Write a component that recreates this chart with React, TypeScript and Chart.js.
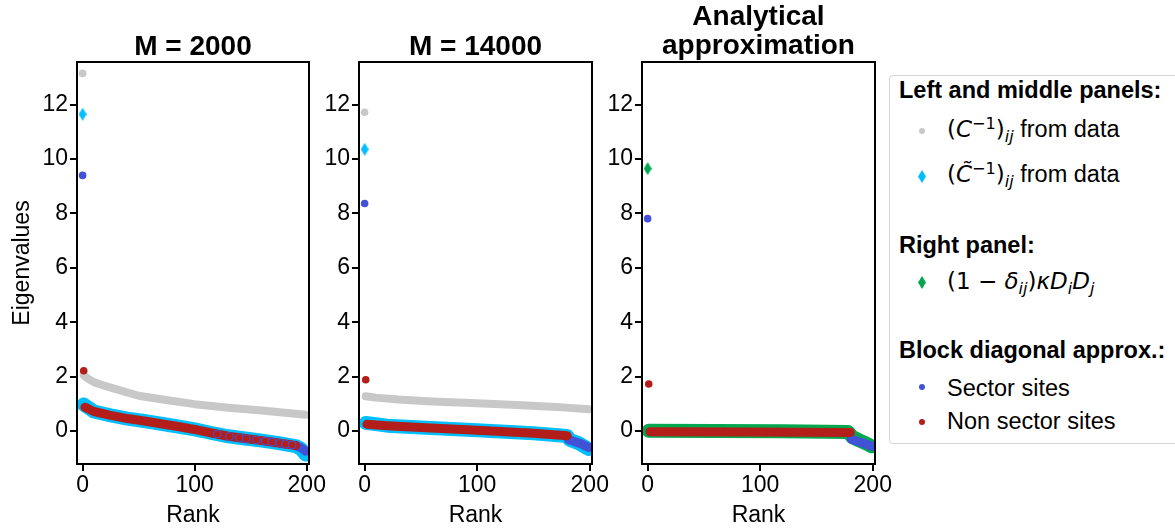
import React, { useEffect, useRef } from "react";
import { Chart, registerables } from "chart.js";

Chart.register(...registerables);

const SANS = '"Liberation Sans", Arial, Helvetica, sans-serif';
const DEJAVU = '"DejaVu Sans", sans-serif';

// axes
const X_TICKS = [0, 100, 200];
const Y_TICKS = [0, 2, 4, 6, 8, 10, 12];
const X_MIN = -5;
const X_MAX = 202;
const Y_MIN = -1.21;
const Y_MAX = 13.57;

// colours
const GREY = "#c8c8c8";
const CYAN = "#00bfff";
const BLUE = "#4152d6";
const RED = "#b41e1a";
const GREEN = "#03a84e";

// largest eigenvalues (rank 0; red one at rank 1), per panel
const TOP_GREY = [13.15, 11.72];
const TOP_CYAN = [11.65, 10.36];
const TOP_GREEN = [9.65];
const TOP_BLUE = [9.4, 8.37, 7.81];
const TOP_RED = [2.22, 1.89, 1.73];

// Panel 1: M = 2000
const P1_GREY_R = [1, 5, 10, 20, 35, 50, 70, 100, 130, 160, 199];
const P1_GREY_V = [2.05, 1.92, 1.8, 1.66, 1.48, 1.3, 1.17, 0.99, 0.86, 0.76, 0.6];
const P1_CYAN_R = [1, 10, 25, 40, 55, 70, 85, 100, 115, 130, 145, 160, 175, 190, 195, 199];
const P1_CYAN_V = [0.98, 0.72, 0.58, 0.46, 0.37, 0.27, 0.17, 0.06, -0.07, -0.19, -0.27, -0.35, -0.44, -0.55, -0.66, -0.86];
const P1_RED_R = [2, 10, 25, 40, 55, 70, 85, 100, 115, 130, 145, 160, 175, 190];
const P1_RED_V = [0.88, 0.72, 0.58, 0.46, 0.37, 0.27, 0.17, 0.06, -0.07, -0.19, -0.27, -0.35, -0.44, -0.53];
const P1_BLUE_R = [190, 194, 197, 199];
const P1_BLUE_V = [-0.53, -0.6, -0.67, -0.74];
const P1_BLUE_MIX_R = [120, 131, 140, 146, 155, 163, 169, 176, 181, 187];
const P1_BLUE_MIX_V = [-0.11, -0.2, -0.24, -0.28, -0.32, -0.37, -0.4, -0.45, -0.48, -0.51];

// Panel 2: M = 14000
const P2_GREY_R = [1, 10, 30, 60, 100, 140, 170, 199];
const P2_GREY_V = [1.28, 1.23, 1.16, 1.09, 1.02, 0.95, 0.89, 0.8];
const P2_CYAN_R = [1, 20, 50, 100, 150, 180, 182, 190, 199];
const P2_CYAN_V = [0.3, 0.2, 0.13, 0.03, -0.08, -0.18, -0.32, -0.44, -0.66];
const P2_RED_R = [2, 20, 50, 100, 150, 180];
const P2_RED_V = [0.25, 0.2, 0.13, 0.03, -0.08, -0.17];
const P2_BLUE_R = [181, 186, 192, 199];
const P2_BLUE_V = [-0.31, -0.38, -0.46, -0.6];

// Panel 3: analytical approximation
const P3_GREEN_R = [1, 60, 120, 178, 182, 188, 194, 199];
const P3_GREEN_V = [0.01, 0.0, -0.01, -0.03, -0.22, -0.34, -0.45, -0.56];
const P3_RED_R = [2, 90, 180];
const P3_RED_V = [-0.02, -0.03, -0.05];
const P3_BLUE_R = [181, 186, 192, 199];
const P3_BLUE_V = [-0.3, -0.37, -0.45, -0.56];

const pts = (r: number[], v: number[]) => r.map((x, i) => ({ x, y: v[i] }));

function diamondImg(color: string, w: number, h: number) {
  const c = document.createElement("canvas");
  c.width = w;
  c.height = h;
  const g = c.getContext("2d")!;
  g.fillStyle = color;
  g.beginPath();
  g.moveTo(w / 2, 0);
  g.lineTo(w, h / 2);
  g.lineTo(w / 2, h);
  g.lineTo(0, h / 2);
  g.closePath();
  g.fill();
  return c;
}

const band = (r: number[], v: number[], color: string, width: number, order: number) => ({
  data: pts(r, v),
  showLine: true,
  borderColor: color,
  borderWidth: width,
  borderCapStyle: "round",
  borderJoinStyle: "round",
  pointRadius: 0,
  pointHoverRadius: 0,
  clip: 0,
  order,
});

const dots = (data: { x: number; y: number }[], color: string, radius: number, order: number, border?: string) => ({
  data,
  showLine: false,
  pointStyle: "circle",
  pointRadius: radius,
  backgroundColor: color,
  borderColor: border || color,
  borderWidth: border ? 1 : 0,
  order,
});

const diamonds = (data: { x: number; y: number }[], img: HTMLCanvasElement, order: number) => ({
  data,
  showLine: false,
  pointStyle: img,
  pointRadius: 6,
  order,
});

const framePlugin = {
  id: "frame",
  afterDraw(chart: any) {
    const { ctx, chartArea } = chart;
    ctx.save();
    ctx.strokeStyle = "#000";
    ctx.lineWidth = 2;
    ctx.strokeRect(chartArea.left, chartArea.top, chartArea.right - chartArea.left, chartArea.bottom - chartArea.top);
    ctx.restore();
  },
};

function makeChart(canvas: HTMLCanvasElement, datasets: any[], yWidth: number, padRight: number, yTitle: boolean) {
  const tickFont = { family: SANS, size: 23 };
  const axisCommon = {
    grid: { display: true, drawOnChartArea: false, drawTicks: true, tickLength: 7, color: "#000", lineWidth: 2 },
    border: { display: true, color: "#000", width: 2 },
  };
  return new Chart(canvas, {
    type: "scatter",
    data: { datasets },
    plugins: [framePlugin],
    options: {
      animation: false,
      responsive: false,
      devicePixelRatio: 1,
      events: [],
      layout: { padding: { top: 62, right: padRight, left: 0, bottom: 0 } },
      plugins: { legend: { display: false }, tooltip: { enabled: false }, title: { display: false } },
      scales: {
        x: {
          type: "linear",
          min: X_MIN,
          max: X_MAX,
          ...axisCommon,
          afterBuildTicks: (s: any) => {
            s.ticks = X_TICKS.map((v) => ({ value: v }));
          },
          afterFit: (s: any) => {
            s.height = 65;
            s.paddingLeft = 0;
            s.paddingRight = 0;
          },
          ticks: { color: "#000", font: tickFont, padding: 1, maxRotation: 0, autoSkip: false },
          title: { display: true, text: "Rank", color: "#000", font: tickFont, padding: { top: 0, bottom: 0 } },
        },
        y: {
          type: "linear",
          min: Y_MIN,
          max: Y_MAX,
          ...axisCommon,
          afterBuildTicks: (s: any) => {
            s.ticks = Y_TICKS.map((v) => ({ value: v }));
          },
          afterFit: (s: any) => {
            s.width = yWidth;
            s.paddingTop = 0;
            s.paddingBottom = 0;
          },
          ticks: { color: "#000", font: tickFont, padding: 2, autoSkip: false },
          title: { display: yTitle, text: "Eigenvalues", color: "#000", font: tickFont, padding: { top: 9, bottom: 0 } },
        },
      },
    } as any,
  });
}

const CW = [330, 300, 300];
const CL = [0, 312, 595];

export default function App() {
  const r1 = useRef<HTMLCanvasElement>(null);
  const r2 = useRef<HTMLCanvasElement>(null);
  const r3 = useRef<HTMLCanvasElement>(null);

  useEffect(() => {
    const cyanD = diamondImg(CYAN, 8, 13);
    const greenD = diamondImg(GREEN, 8, 13);

    const ds1 = [
      diamonds([{ x: 0, y: TOP_CYAN[0] }], cyanD, 0),
      dots([{ x: 0, y: TOP_GREY[0] }], GREY, 3.8, 0),
      dots([{ x: 0, y: TOP_BLUE[0] }], BLUE, 3.8, 0),
      dots([{ x: 1, y: TOP_RED[0] }], RED, 3.8, 0),
      dots(pts(P1_BLUE_MIX_R, P1_BLUE_MIX_V), RED, 4, 1, BLUE),
      band(P1_RED_R, P1_RED_V, RED, 9, 2),
      band(P1_BLUE_R, P1_BLUE_V, BLUE, 9, 3),
      band(P1_CYAN_R, P1_CYAN_V, CYAN, 14, 4),
      band(P1_GREY_R, P1_GREY_V, GREY, 8, 5),
    ];
    const ds2 = [
      diamonds([{ x: 0, y: TOP_CYAN[1] }], cyanD, 0),
      dots([{ x: 0, y: TOP_GREY[1] }], GREY, 3.8, 0),
      dots([{ x: 0, y: TOP_BLUE[1] }], BLUE, 3.8, 0),
      dots([{ x: 1, y: TOP_RED[1] }], RED, 3.8, 0),
      band(P2_RED_R, P2_RED_V, RED, 9, 2),
      band(P2_BLUE_R, P2_BLUE_V, BLUE, 9, 3),
      band(P2_CYAN_R, P2_CYAN_V, CYAN, 14, 4),
      band(P2_GREY_R, P2_GREY_V, GREY, 8, 5),
    ];
    const ds3 = [
      diamonds([{ x: 0, y: TOP_GREEN[0] }], greenD, 0),
      dots([{ x: 0, y: TOP_BLUE[2] }], BLUE, 3.8, 0),
      dots([{ x: 1, y: TOP_RED[2] }], RED, 3.8, 0),
      band(P3_RED_R, P3_RED_V, RED, 9, 2),
      band(P3_BLUE_R, P3_BLUE_V, BLUE, 9, 3),
      band(P3_GREEN_R, P3_GREEN_V, GREEN, 14, 4),
    ];
    const c1 = makeChart(r1.current!, ds1, 77, 21, true);
    const c2 = makeChart(r2.current!, ds2, 47, 20, false);
    const c3 = makeChart(r3.current!, ds3, 47, 20, false);
    return () => {
      c1.destroy();
      c2.destroy();
      c3.destroy();
    };
  }, []);

  const titleStyle = (left: number, width: number, top: number): React.CSSProperties => ({
    position: "absolute",
    left,
    width,
    top,
    textAlign: "center",
    fontFamily: SANS,
    fontWeight: "bold",
    fontSize: 28,
    lineHeight: "28px",
    whiteSpace: "nowrap",
    color: "#000",
  });
  const head = (baseline: number): React.CSSProperties => ({
    position: "absolute",
    left: 899,
    top: baseline - 19.9,
    fontFamily: SANS,
    fontWeight: "bold",
    fontSize: 23.5,
    lineHeight: "23.5px",
    whiteSpace: "nowrap",
    color: "#000",
  });
  const item = (baseline: number): React.CSSProperties => ({
    position: "absolute",
    left: 947,
    top: baseline - 19.9,
    fontFamily: SANS,
    fontSize: 23.5,
    lineHeight: "23.5px",
    whiteSpace: "nowrap",
    color: "#000",
  });
  const math: React.CSSProperties = { fontFamily: DEJAVU, fontSize: 23 };
  const sup: React.CSSProperties = { fontSize: "0.7em", position: "relative", top: "-0.55em" };
  const sub: React.CSSProperties = { fontSize: "0.7em", position: "relative", top: "0.3em" };
  const marker = (cx: number, cy: number, kind: "dot" | "diamond", color: string) =>
    kind === "dot" ? (
      <div style={{ position: "absolute", left: cx - 3, top: cy - 3, width: 6, height: 6, borderRadius: "50%", background: color }} />
    ) : (
      <svg style={{ position: "absolute", left: cx - 4, top: cy - 6.5 }} width={8} height={13}>
        <polygon points="4,0 8,6.5 4,13 0,6.5" fill={color} />
      </svg>
    );

  return (
    <div style={{ position: "absolute", left: 0, top: 0, width: 1175, height: 529, overflow: "hidden", background: "#fff", fontFamily: SANS }}>
      {[r1, r2, r3].map((r, i) => (
        <canvas
          key={i}
          ref={r}
          width={CW[i]}
          height={529}
          style={{ position: "absolute", left: CL[i], top: 0, width: CW[i], height: 529 }}
        />
      ))}
      <div style={titleStyle(77, 232, 32.3)}>M = 2000</div>
      <div style={titleStyle(359, 233, 32.3)}>M = 14000</div>
      <div style={titleStyle(642, 233, 2.3)}>Analytical</div>
      <div style={titleStyle(642, 233, 31.3)}>approximation</div>

      <div
        style={{
          position: "absolute",
          left: 889,
          top: 75,
          width: 300,
          height: 367,
          border: "1px solid #d4d4d4",
          borderRadius: 4,
          background: "#fff",
        }}
      />
      <div style={head(99.3)}>Left and middle panels:</div>
      {marker(921.7, 130.7, "dot", GREY)}
      <div style={item(138.3)}>
        <span style={math}>
          (<i>C</i>
          <span style={sup}>−1</span>)<span style={sub}><i>ij</i></span>
        </span>{" "}
        from data
      </div>
      {marker(921.7, 176.7, "diamond", CYAN)}
      <div style={item(183.3)}>
        <span style={math}>
          (<i>{"C\u0303"}</i>
          <span style={sup}>−1</span>)<span style={sub}><i>ij</i></span>
        </span>{" "}
        from data
      </div>
      <div style={head(254.3)}>Right panel:</div>
      {marker(921.7, 282.7, "diamond", GREEN)}
      <div style={item(290)}>
        <span style={math}>
          (1 − <i>δ</i>
          <span style={sub}><i>ij</i></span>)<i>κD</i>
          <span style={sub}><i>i</i></span>
          <i>D</i>
          <span style={sub}><i>j</i></span>
        </span>
      </div>
      <div style={head(359)}>Block diagonal approx.:</div>
      {marker(921.7, 387.3, "dot", BLUE)}
      <div style={item(396.7)}>Sector sites</div>
      {marker(921.7, 421.7, "dot", RED)}
      <div style={item(430)}>Non sector sites</div>
    </div>
  );
}
